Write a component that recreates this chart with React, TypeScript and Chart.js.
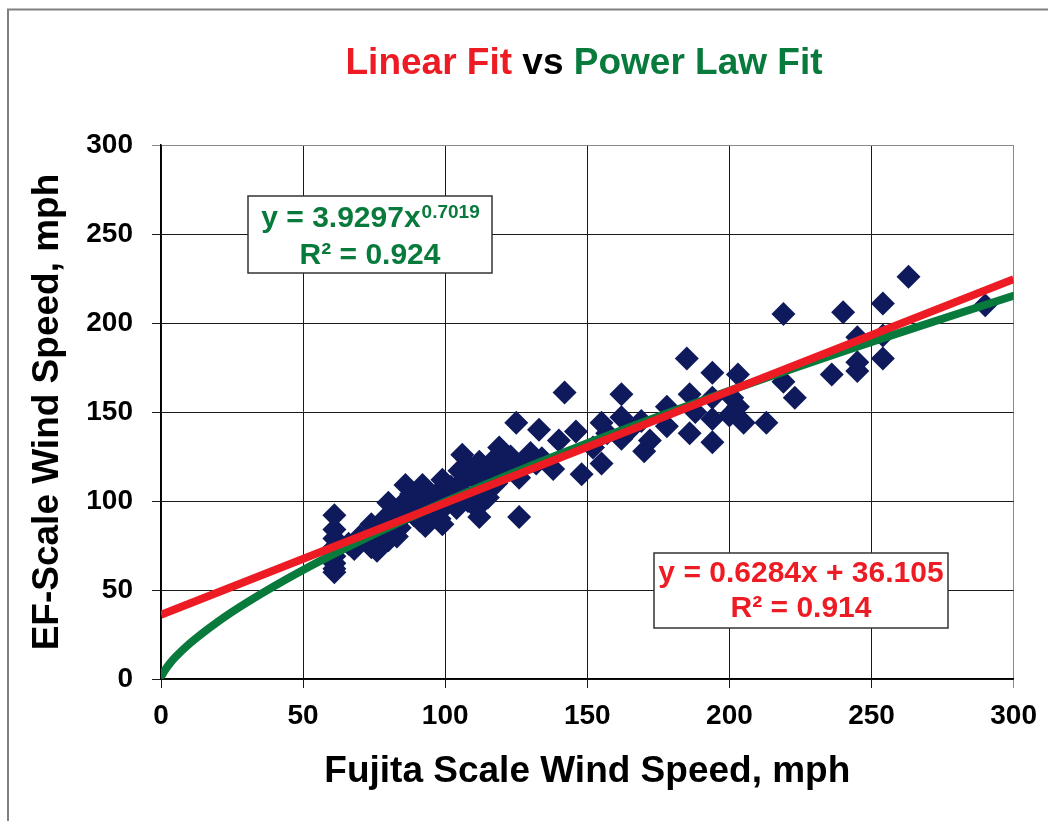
import React, { useEffect, useRef } from 'react';
import { Chart, registerables } from 'chart.js';

Chart.register(...registerables);

// ---- data ----
const fujitaSpeeds = [
  61, 61, 61, 61, 61, 61, 61, 61,
  66, 68, 70, 74, 74, 74, 76, 77, 78, 80, 80, 82, 84, 85, 86, 86, 87, 88, 89, 90,
  91, 92, 93, 94, 95, 97, 98, 99, 99, 100, 101, 103, 104, 105, 106, 106, 107, 108,
  109, 110, 111, 112, 112, 112, 113, 114, 116, 117, 119, 120, 121, 123, 125, 126,
  126, 128, 130, 132, 133, 134,
  83, 96, 102, 115, 118, 124,
  138, 140, 142, 146, 148, 152, 155, 155, 157, 162, 162, 162, 165, 169, 170, 172,
  178, 178, 185, 186, 186, 188, 194, 194, 194, 194, 200, 201, 203, 203, 205, 213,
  219, 219, 223, 236, 240, 245, 245, 245, 254, 254, 254, 263, 290,
];
const efSpeeds = [
  92, 84, 79, 74, 69, 65, 62, 60,
  76, 73, 80, 87, 79, 74, 72, 82, 89, 99, 78, 95, 85, 91, 109, 100, 96, 104, 92, 98,
  89, 109, 86, 101, 95, 104, 90, 112, 87, 97, 101, 105, 96, 117, 126, 111, 104, 100,
  119, 113, 96, 122, 91, 105, 116, 110, 118, 123, 130, 114, 119, 125, 144, 113,
  91, 122, 127, 121, 140, 124,
  80, 92, 108, 102, 110, 118,
  118, 134, 161, 139, 115, 130, 121, 144, 138, 160, 147, 135, 140, 145, 128, 134,
  153, 142, 180, 160, 138, 150, 172, 158, 146, 133, 148, 158, 171, 153, 144, 144,
  205, 167, 158, 171, 206, 192, 178, 173, 211, 193, 180, 226, 210,
];

// Excel trendlines as displayed: y = 0.6284x + 36.105 and y = 3.9297x^0.7019
const linearFitX = [0, 300];
const linearFitY = [36.105, 224.625];
const powerFitX = [0.5, 1, 2, 3, 5, 10, 20, 30, 50, 75, 100, 150, 200, 250, 300];
const powerFitY = [2.42, 3.93, 6.39, 8.5, 12.16, 19.78, 32.18, 42.77, 61.23, 81.38, 99.58, 132.4, 161.98, 189.4, 215.3];

const axisMin = 0;
const axisMax = 300;
const axisStep = 50;

const titleParts = ['Linear Fit', ' vs ', 'Power Law Fit'];
const xAxisTitle = 'Fujita Scale Wind Speed, mph';
const yAxisTitle = 'EF-Scale Wind Speed, mph';
const powerEqMain = 'y = 3.9297x';
const powerEqExp = '0.7019';
const powerR2 = 'R² = 0.924';
const linearEq = 'y = 0.6284x + 36.105';
const linearR2 = 'R² = 0.914';

// ---- styles ----
const FONT = '"Liberation Sans", Arial, Helvetica, sans-serif';
const RED = '#ed1c24';
const GREEN = '#087a3c';
const NAVY = '#0f1a5c';

const decorPlugin = {
  id: 'decor',
  beforeDraw(chart: any) {
    const ctx = chart.ctx as CanvasRenderingContext2D;
    ctx.save();
    ctx.fillStyle = '#ffffff';
    ctx.fillRect(0, 0, chart.width, chart.height);
    ctx.strokeStyle = '#808080';
    ctx.lineWidth = 2;
    ctx.strokeRect(8, 9.5, 1400, 1200);

    // multi-colour title
    ctx.font = `bold 37px ${FONT}`;
    ctx.textBaseline = 'alphabetic';
    ctx.textAlign = 'left';
    const colors = [RED, '#000000', GREEN];
    const widths = titleParts.map((t) => ctx.measureText(t).width);
    const total = widths.reduce((a, b) => a + b, 0);
    let x = 584 - total / 2;
    titleParts.forEach((t, i) => {
      ctx.fillStyle = colors[i];
      ctx.fillText(t, x, 74);
      x += widths[i];
    });
    ctx.restore();
  },
  afterDraw(chart: any) {
    const ctx = chart.ctx as CanvasRenderingContext2D;
    ctx.save();
    const box = (l: number, t: number, r: number, b: number) => {
      ctx.fillStyle = '#ffffff';
      ctx.fillRect(l, t, r - l, b - t);
      ctx.strokeStyle = '#333333';
      ctx.lineWidth = 1.5;
      ctx.strokeRect(l, t, r - l, b - t);
    };
    // power-law box
    box(248, 196, 492, 273);
    ctx.fillStyle = GREEN;
    ctx.textBaseline = 'alphabetic';
    ctx.font = `bold 30px ${FONT}`;
    const wMain = ctx.measureText(powerEqMain).width;
    ctx.font = `bold 19px ${FONT}`;
    const wExp = ctx.measureText(powerEqExp).width;
    const sx = 370 - (wMain + wExp) / 2;
    ctx.textAlign = 'left';
    ctx.font = `bold 30px ${FONT}`;
    ctx.fillText(powerEqMain, sx, 227);
    ctx.font = `bold 19px ${FONT}`;
    ctx.fillText(powerEqExp, sx + wMain + 1, 218);
    ctx.font = `bold 30px ${FONT}`;
    ctx.textAlign = 'center';
    ctx.fillText(powerR2, 370, 264);

    // linear box
    box(654, 553, 948, 628);
    ctx.fillStyle = RED;
    ctx.textAlign = 'center';
    ctx.fillText(linearEq, 801, 582);
    ctx.fillText(linearR2, 801, 617);
    ctx.restore();
  },
};

export default function App() {
  const canvasRef = useRef<HTMLCanvasElement | null>(null);

  useEffect(() => {
    if (!canvasRef.current) return;
    const tickFont = { family: FONT, size: 28, weight: 'bold' as const };
    const titleFont = { family: FONT, size: 37, weight: 'bold' as const };
    const gridColor = (c: any) => (c.tick && c.tick.value === axisMax ? '#8a8a8a' : '#1a1a1a');

    const chart = new Chart(canvasRef.current, {
      type: 'scatter',
      data: {
        datasets: [
          {
            label: 'Linear fit',
            data: linearFitX.map((x, i) => ({ x, y: linearFitY[i] })),
            showLine: true,
            borderColor: RED,
            borderWidth: 8,
            pointRadius: 0,
            order: 0,
          },
          {
            label: 'Power law fit',
            data: powerFitX.map((x, i) => ({ x, y: powerFitY[i] })),
            showLine: true,
            borderColor: GREEN,
            borderWidth: 8,
            borderCapStyle: 'round',
            pointRadius: 0,
            cubicInterpolationMode: 'monotone',
            order: 1,
          },
          {
            label: 'Data',
            data: fujitaSpeeds.map((x, i) => ({ x, y: efSpeeds[i] })),
            pointStyle: 'rectRot',
            pointRadius: 12,
            backgroundColor: NAVY,
            borderColor: NAVY,
            borderWidth: 0,
            order: 2,
          },
        ],
      },
      options: {
        animation: false,
        responsive: false,
        events: [],
        layout: { padding: { top: 145, right: 34, left: 0, bottom: 0 } },
        plugins: {
          legend: { display: false },
          tooltip: { enabled: false },
          title: { display: false },
        },
        scales: {
          x: {
            type: 'linear',
            min: axisMin,
            max: axisMax,
            afterFit: (s: any) => {
              s.height = 142;
            },
            ticks: { stepSize: axisStep, color: '#000', font: tickFont, padding: 11, maxRotation: 0, autoSkip: false },
            grid: { color: gridColor, lineWidth: 1, tickLength: 9 },
            border: { color: '#000', width: 1.5 },
            title: {
              display: true,
              text: xAxisTitle,
              color: '#000',
              font: titleFont,
              padding: { top: 0, bottom: 27 },
            },
          },
          y: {
            type: 'linear',
            min: axisMin,
            max: axisMax,
            afterFit: (s: any) => {
              s.width = 161;
            },
            ticks: { stepSize: axisStep, color: '#000', font: tickFont, padding: 19, autoSkip: false },
            grid: { color: gridColor, lineWidth: 1, tickLength: 9 },
            border: { color: '#000', width: 1.5 },
            title: {
              display: true,
              text: yAxisTitle,
              color: '#000',
              font: titleFont,
              padding: { top: 26, bottom: 0 },
            },
          },
        },
      } as any,
      plugins: [decorPlugin],
    });
    return () => chart.destroy();
  }, []);

  return (
    <div style={{ position: 'absolute', left: 0, top: 0, width: 1048, height: 821, background: '#fff' }}>
      <canvas ref={canvasRef} width={1048} height={821} style={{ display: 'block' }} />
    </div>
  );
}
